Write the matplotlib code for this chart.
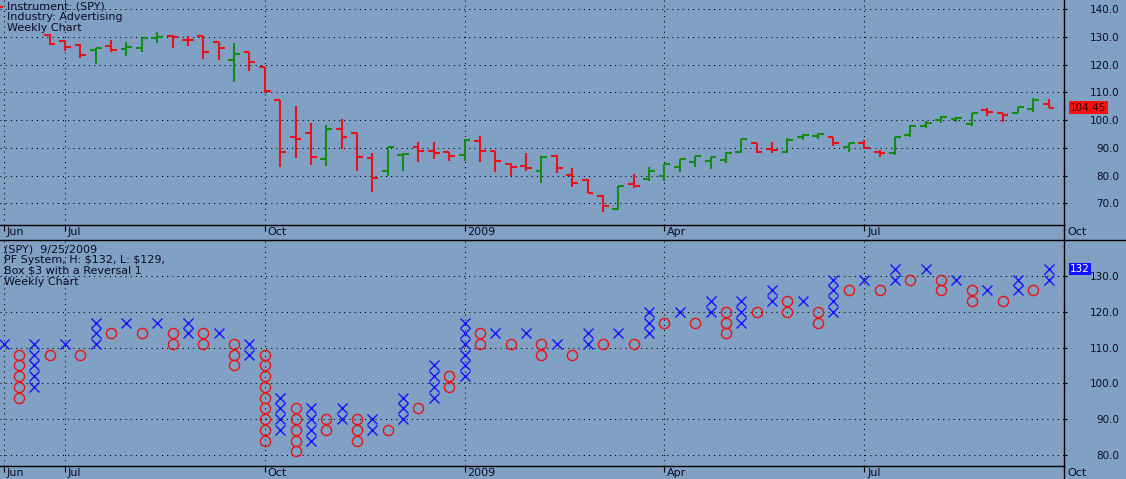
import matplotlib
matplotlib.use("Agg")
import matplotlib.pyplot as plt
import numpy as np
import pandas as pd
from matplotlib.lines import Line2D
from matplotlib.transforms import blended_transform_factory, offset_copy

BG = "#80a0c4"
TXT = "#0c0c24"
UP = "#148c14"
DOWN = "#e8121a"
X_COL = "#1414ff"
O_COL = "#f01010"

# weekly bars, one per Friday from 2008-06-27 to 2009-09-25
bar_open = [130.8, 128.5, 127.0, 125.1, 126.8, 125.6, 126.1, 129.7, 130.4, 128.8,
            130.3, 128.0, 121.6, 124.4, 119.0, 107.2, 93.8, 95.5, 85.8, 96.8,
            95.5, 86.2, 81.8, 87.3, 90.2, 89.0, 88.5, 87.3, 92.6, 88.8,
            84.1, 83.6, 81.6, 87.0, 80.2, 78.4, 72.6, 67.8, 77.0, 78.6,
            80.0, 83.2, 84.8, 85.2, 85.6, 88.5, 91.8, 89.4, 88.6, 94.0,
            94.3, 93.8, 90.4, 91.8, 88.6, 88.0, 94.6, 97.9, 100.0, 100.5,
            98.6, 103.6, 102.5, 102.7, 103.9, 105.7]
bar_high = [130.9, 128.8, 127.3, 126.1, 128.7, 128.2, 129.4, 131.6, 130.6, 130.4,
            130.4, 128.0, 127.6, 124.4, 119.2, 107.2, 105.1, 99.1, 98.2, 100.3,
            95.5, 88.0, 90.2, 88.0, 92.2, 92.2, 88.6, 93.1, 94.3, 89.0,
            84.6, 88.0, 87.0, 87.4, 82.6, 78.8, 73.0, 76.2, 80.6, 83.0,
            84.2, 85.8, 87.2, 86.8, 88.6, 93.0, 91.8, 92.2, 93.4, 94.9,
            95.5, 94.0, 91.6, 92.8, 89.2, 94.0, 98.2, 99.7, 101.5, 101.2,
            102.7, 104.2, 102.7, 104.8, 107.8, 107.5]
bar_low = [127.0, 124.9, 122.5, 120.1, 124.6, 123.2, 124.6, 127.6, 126.1, 126.8,
           122.0, 121.6, 113.6, 117.8, 109.8, 83.2, 86.4, 83.8, 83.6, 89.6,
           81.8, 74.2, 79.8, 81.8, 85.0, 86.0, 85.4, 85.4, 85.0, 81.4,
           79.8, 81.8, 77.4, 80.8, 75.8, 73.6, 67.0, 67.6, 75.4, 78.2,
           78.0, 81.4, 83.2, 82.4, 84.6, 88.2, 88.0, 88.0, 88.2, 92.8,
           93.1, 90.6, 88.6, 89.4, 86.8, 87.4, 94.0, 97.0, 99.1, 99.4,
           97.9, 101.5, 99.4, 102.5, 103.0, 104.2]
bar_close = [127.4, 126.3, 123.4, 125.8, 125.4, 126.3, 129.4, 130.0, 129.8, 128.7,
             124.6, 126.1, 123.9, 120.8, 110.5, 88.5, 93.1, 86.8, 96.6, 93.8,
             86.6, 79.3, 90.2, 87.8, 88.7, 88.0, 87.2, 92.8, 89.0, 85.2,
             83.0, 82.8, 86.8, 82.6, 77.4, 73.8, 69.0, 76.2, 76.4, 81.6,
             84.2, 85.8, 87.0, 86.6, 88.0, 93.0, 88.6, 89.2, 92.8, 94.6,
             95.0, 91.8, 91.6, 89.8, 88.0, 94.0, 97.9, 99.1, 101.0, 100.6,
             102.7, 103.0, 101.9, 104.6, 107.2, 104.45]

# point & figure columns, one per week from 2008-06-06, box $3, reversal 1
pf_kind = "XOXOXOXOXOXOXOXOXOXOXOXOXOXOXOXOXOXOXOXOXOXOXOXOXOXOXOXOXOXOXOXOXOXOX"
pf_lo = [111, 96, 99, 108, 111, 108, 111, 114, 117, 114, 117, 111, 114, 111, 114,
         105, 108, 84, 87, 81, 84, 87, 90, 84, 87, 87, 90, 93, 96, 99,
         102, 111, 114, 111, 114, 108, 111, 108, 111, 111, 114, 111, 114, 117,
         120, 117, 120, 114, 117, 120, 123, 120, 123, 117, 120, 126, 129, 126,
         129, 129, 132, 126, 129, 123, 126, 123, 126, 126, 129]
pf_hi = [111, 108, 111, 108, 111, 108, 117, 114, 117, 114, 117, 114, 117, 114, 114,
         111, 111, 108, 96, 93, 93, 90, 93, 90, 90, 87, 96, 93, 105, 102,
         117, 114, 114, 111, 114, 111, 111, 108, 114, 111, 114, 111, 120, 117,
         120, 117, 123, 120, 123, 120, 126, 123, 123, 120, 129, 126, 129, 126,
         132, 129, 132, 129, 129, 126, 126, 123, 129, 126, 132]
box_size = 3

week_ends = pd.date_range("2008-06-06", "2009-10-02", freq="W-FRI")
week_x = np.arange(len(week_ends)) - 3

tick_x, tick_lab = [], []
for i, d in enumerate(week_ends):
    if d.month in (1, 4, 6, 7, 10) and (i == 0 or week_ends[i - 1].month != d.month):
        if d.month == 6 and i > 0:
            continue
        tick_x.append(week_x[i])
        tick_lab.append(str(d.year) if d.month == 1 else d.strftime("%b"))

W, H = 1126, 479
fig = plt.figure(figsize=(W / 100, H / 100), dpi=100, facecolor=BG)
ax1 = fig.add_axes([0, 1 - 225 / H, 1064 / W, 225 / H], facecolor=BG)
ax2 = fig.add_axes([0, 13 / H, 1064 / W, 226 / H], facecolor=BG, sharex=ax1)

# price bars
bx = week_x[3:3 + len(bar_open)]
o, hi, lo, c = map(np.asarray, (bar_open, bar_high, bar_low, bar_close))
cols = np.where(c > o, UP, DOWN)
ax1.vlines(bx, lo, hi, colors=cols, lw=1.5)
ax1.hlines(o, bx - 0.38, bx, colors=cols, lw=1.5)
ax1.hlines(c, bx, bx + 0.38, colors=cols, lw=1.5)

# point & figure
for k, x, a, b in zip(pf_kind, week_x, pf_lo, pf_hi):
    boxes = np.arange(a, b + 1, box_size)
    if k == "X":
        ax2.plot([x] * len(boxes), boxes, ls="none", marker="x", ms=7.5,
                 mew=1.0, color=X_COL)
    else:
        ax2.plot([x] * len(boxes), boxes, ls="none", marker="o", ms=7.3,
                 mew=1.0, mfc="none", mec=O_COL)

ax1.set_xlim(-3.23, 66.0)
ax1.set_ylim(62.2, 143.24)
ax2.set_ylim(76.9, 140.06)
ax1.set_yticks(np.arange(70, 141, 10))
ax2.set_yticks(np.arange(80, 131, 10))
ax1.set_xticks(tick_x)

for ax in (ax1, ax2):
    ax.set_axisbelow(True)
    ax.grid(True, color="black", lw=0.75, ls=(0, (1, 4)))
    for s in ("top", "left", "right"):
        ax.spines[s].set_visible(False)
    ax.spines["bottom"].set_color("black")
    ax.spines["bottom"].set_linewidth(1.0)
    ax.yaxis.tick_right()
    ax.tick_params(axis="y", direction="out", length=2.2, width=0.8,
                   pad=37.5, labelsize=7.5, labelcolor=TXT, color="black")
    ax.tick_params(axis="x", direction="out", length=4, width=0.8,
                   labelbottom=False, color="black")
    ax.yaxis.set_major_formatter(matplotlib.ticker.FormatStrFormatter("%.1f"))
    for t in ax.get_yticklabels():
        t.set_horizontalalignment("right")
    tr = blended_transform_factory(ax.transData, ax.transAxes)
    for x, lab in zip(tick_x, tick_lab):
        ax.text(x, 0, lab, transform=offset_copy(tr, fig, x=3, y=-7, units="dots"),
                ha="left", va="center", fontsize=8, color=TXT, clip_on=False)

# headers
for i, line in enumerate(["Instrument: (SPY)", "Industry: Advertising", "Weekly Chart"]):
    ax1.text(0, 1, line, transform=offset_copy(ax1.transAxes, fig, x=7,
             y=-6.7 - 10.8 * i, units="dots"), ha="left", va="center",
             fontsize=8, color=TXT)
hdr2 = [f"(SPY)  {week_ends[3 + len(bar_close) - 1].strftime('%-m/%-d/%Y')}",
        f"PF System, H: \\${pf_hi[-1]}, L: \\${pf_lo[-1]},",
        f"Box \\${box_size} with a Reversal 1",
        "Weekly Chart"]
for i, line in enumerate(hdr2):
    ax2.text(0, 1, line, transform=offset_copy(ax2.transAxes, fig, x=4,
             y=-9.3 - 10.8 * i, units="dots"), ha="left", va="center",
             fontsize=8, color=TXT)

# last value flags
tr1 = blended_transform_factory(ax1.transAxes, ax1.transData)
ax1.text(1, bar_close[-1], f"{bar_close[-1]:.2f}",
         transform=offset_copy(tr1, fig, x=6, units="dots"), ha="left",
         va="center", fontsize=7.5, color="#300000", clip_on=False,
         bbox=dict(boxstyle="square,pad=0.12", fc="#ff1010", ec="none"))
tr2 = blended_transform_factory(ax2.transAxes, ax2.transData)
ax2.text(1, pf_hi[-1], f"{pf_hi[-1]}",
         transform=offset_copy(tr2, fig, x=6, units="dots"), ha="left",
         va="center", fontsize=7.5, color="white", clip_on=False,
         bbox=dict(boxstyle="square,pad=0.12", fc="#1010ff", ec="none"))

# frame lines
fig.add_artist(Line2D([1064 / W, 1064 / W], [0, 1], color="black", lw=1.0))
fig.add_artist(Line2D([0, 1], [1 - 240 / H] * 2, color="black", lw=1.0))
fig.add_artist(Line2D([0, 2 / W], [1 - 7 / H] * 2, color=DOWN, lw=1.5))

fig.savefig("out.png", dpi=100, facecolor=BG)
